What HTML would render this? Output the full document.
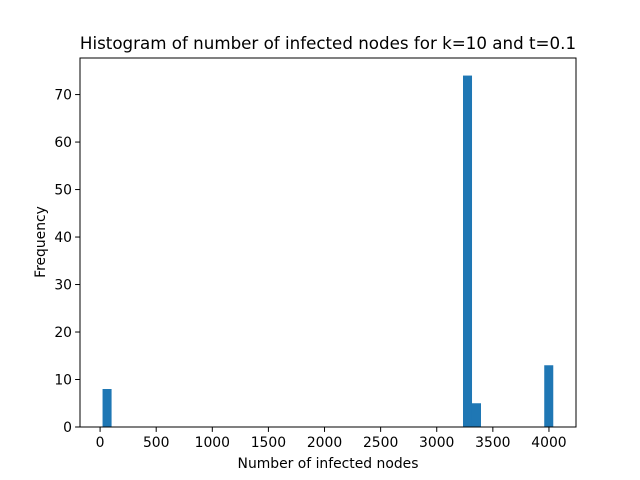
<!DOCTYPE html>
<html><head><meta charset="utf-8"><style>
body{margin:0;background:#fff}
svg text{font-family:"DejaVu Sans","Liberation Sans",sans-serif;fill:#000}
</style></head><body>
<svg id="c" width="640" height="480" style="position:absolute;left:0;top:0">
<rect width="640" height="480" fill="#fff"/>
</svg>
<script>
const binLefts=[22,3234,3314,3958];
const binWidth=80.4;
const counts=[8,74,5,13];
const xTicks=[0,500,1000,1500,2000,2500,3000,3500,4000];
const yTicks=[0,10,20,30,40,50,60,70];
const L=80,R=576,T=58,B=427;
const xmin=-179,xmax=4241,ymin=0,ymax=77.7;
const X=v=>L+(v-xmin)/(xmax-xmin)*(R-L);
const Y=v=>B-(v-ymin)/(ymax-ymin)*(B-T);
const s=document.getElementById('c');const NS='http://www.w3.org/2000/svg';
function mk(t,a,p){const e=document.createElementNS(NS,t);for(const k in a)e.setAttribute(k,a[k]);(p||s).appendChild(e);return e;}
for(let i=0;i<counts.length;i++){
const r=mk('rect',{x:X(binLefts[i]),y:Y(counts[i]),width:X(binLefts[i]+binWidth)-X(binLefts[i]),height:Y(0)-Y(counts[i]),fill:'#1f77b4'});


}
const fr=mk('rect',{x:L,y:T,width:R-L,height:B-T,fill:'none',stroke:'#000','stroke-width':1});


xTicks.forEach(v=>{const x=X(v);
mk('line',{x1:x,x2:x,y1:B,y2:B+4.9,stroke:'#000'});
const t=mk('text',{x:x,y:B+20,'text-anchor':'middle','font-size':13.9});t.textContent=v;

});
yTicks.forEach(v=>{const y=Y(v);
mk('line',{x1:L-4.9,x2:L,y1:y,y2:y,stroke:'#000'});
const t=mk('text',{x:L-8,y:y+5,'text-anchor':'end','font-size':13.9});t.textContent=v;

});
</script>
<svg style="position:absolute;left:0;top:0" width="640" height="480">
<text x="328" y="49" text-anchor="middle" font-size="16.7">Histogram of number of infected nodes for k=10 and t=0.1</text>
<text x="328" y="468" text-anchor="middle" font-size="13.9">Number of infected nodes</text>
<text transform="translate(45,242) rotate(-90)" text-anchor="middle" font-size="13.9">Frequency</text>
</svg>
</body></html>
